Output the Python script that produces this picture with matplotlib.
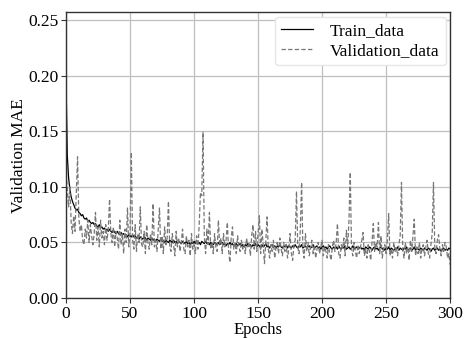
import matplotlib
matplotlib.use("Agg")
import matplotlib.pyplot as plt
import numpy as np

# MAE per epoch
train_mae = [
    0.195, 0.128, 0.108, 0.098, 0.091, 0.087, 0.084, 0.081, 0.079, 0.080,
    0.077, 0.076, 0.074, 0.075, 0.072, 0.071, 0.072, 0.069, 0.070, 0.068,
    0.067, 0.068, 0.066, 0.067, 0.065, 0.064, 0.066, 0.063, 0.064, 0.062,
    0.063, 0.061, 0.062, 0.060, 0.062, 0.060, 0.059, 0.061, 0.059, 0.058,
    0.060, 0.058, 0.057, 0.059, 0.057, 0.058, 0.056, 0.057, 0.055, 0.057,
    0.056, 0.055, 0.057, 0.055, 0.056, 0.054, 0.055, 0.053, 0.055, 0.054,
    0.053, 0.055, 0.054, 0.052, 0.054, 0.053, 0.052, 0.054, 0.052, 0.053,
    0.051, 0.053, 0.052, 0.051, 0.053, 0.051, 0.052, 0.050, 0.052, 0.051,
    0.050, 0.052, 0.051, 0.050, 0.052, 0.050, 0.051, 0.049, 0.051, 0.050,
    0.049, 0.051, 0.050, 0.049, 0.051, 0.049, 0.050, 0.048, 0.050, 0.049,
    0.051, 0.049, 0.052, 0.049, 0.050, 0.048, 0.051, 0.050, 0.049, 0.051,
    0.049, 0.050, 0.048, 0.050, 0.049, 0.048, 0.050, 0.049, 0.048, 0.050,
    0.048, 0.049, 0.050, 0.048, 0.049, 0.047, 0.049, 0.048, 0.050, 0.048,
    0.049, 0.047, 0.048, 0.049, 0.047, 0.048, 0.049, 0.047, 0.048, 0.046,
    0.048, 0.047, 0.049, 0.047, 0.048, 0.046, 0.048, 0.047, 0.049, 0.046,
    0.048, 0.047, 0.045, 0.048, 0.046, 0.047, 0.049, 0.046, 0.047, 0.045,
    0.047, 0.048, 0.046, 0.047, 0.045, 0.047, 0.046, 0.048, 0.046, 0.045,
    0.047, 0.046, 0.048, 0.045, 0.047, 0.046, 0.045, 0.047, 0.046, 0.048,
    0.046, 0.045, 0.047, 0.046, 0.048, 0.045, 0.046, 0.047, 0.045, 0.046,
    0.047, 0.045, 0.046, 0.048, 0.045, 0.046, 0.047, 0.045, 0.046, 0.044,
    0.046, 0.047, 0.045, 0.046, 0.044, 0.046, 0.047, 0.045, 0.044, 0.046,
    0.045, 0.046, 0.044, 0.047, 0.045, 0.044, 0.046, 0.045, 0.047, 0.044,
    0.045, 0.046, 0.044, 0.045, 0.047, 0.044, 0.045, 0.046, 0.044, 0.045,
    0.046, 0.044, 0.045, 0.043, 0.046, 0.045, 0.044, 0.046, 0.045, 0.043,
    0.045, 0.046, 0.044, 0.045, 0.043, 0.045, 0.046, 0.044, 0.045, 0.043,
    0.045, 0.044, 0.046, 0.043, 0.045, 0.044, 0.043, 0.045, 0.044, 0.046,
    0.043, 0.045, 0.044, 0.043, 0.045, 0.044, 0.046, 0.043, 0.044, 0.045,
    0.043, 0.044, 0.046, 0.043, 0.045, 0.044, 0.043, 0.045, 0.044, 0.043,
    0.045, 0.044, 0.043, 0.045, 0.044, 0.042, 0.044, 0.045, 0.043, 0.044,
    0.045, 0.043, 0.044, 0.042, 0.044, 0.045, 0.043, 0.044, 0.043, 0.045,
    0.044,
]

val_mae = [
    0.112, 0.098, 0.082, 0.100, 0.068, 0.058, 0.074, 0.060, 0.095, 0.127,
    0.072, 0.060, 0.066, 0.052, 0.048, 0.062, 0.054, 0.070, 0.050, 0.066,
    0.056, 0.048, 0.058, 0.077, 0.052, 0.064, 0.046, 0.070, 0.054, 0.060,
    0.048, 0.066, 0.052, 0.062, 0.089, 0.058, 0.050, 0.064, 0.046, 0.060,
    0.054, 0.044, 0.070, 0.048, 0.058, 0.040, 0.062, 0.050, 0.081, 0.046,
    0.060, 0.131, 0.052, 0.044, 0.066, 0.042, 0.058, 0.050, 0.082, 0.048,
    0.046, 0.060, 0.040, 0.066, 0.050, 0.044, 0.058, 0.048, 0.085, 0.046,
    0.052, 0.042, 0.062, 0.081, 0.044, 0.056, 0.040, 0.064, 0.048, 0.054,
    0.087, 0.046, 0.042, 0.058, 0.048, 0.038, 0.060, 0.046, 0.054, 0.042,
    0.050, 0.062, 0.044, 0.040, 0.056, 0.046, 0.052, 0.038, 0.058, 0.044,
    0.048, 0.040, 0.056, 0.044, 0.066, 0.095, 0.092, 0.149, 0.056, 0.040,
    0.062, 0.048, 0.077, 0.044, 0.050, 0.040, 0.058, 0.046, 0.042, 0.070,
    0.048, 0.054, 0.040, 0.058, 0.046, 0.052, 0.068, 0.042, 0.032, 0.054,
    0.064, 0.044, 0.050, 0.040, 0.056, 0.046, 0.042, 0.052, 0.044, 0.048,
    0.040, 0.054, 0.046, 0.050, 0.038, 0.056, 0.066, 0.044, 0.060, 0.042,
    0.058, 0.074, 0.040, 0.062, 0.048, 0.031, 0.050, 0.073, 0.044, 0.036,
    0.048, 0.042, 0.052, 0.036, 0.046, 0.050, 0.040, 0.054, 0.044, 0.038,
    0.050, 0.042, 0.048, 0.036, 0.044, 0.058, 0.040, 0.034, 0.048, 0.052,
    0.096, 0.046, 0.040, 0.062, 0.104, 0.044, 0.036, 0.058, 0.042, 0.050,
    0.038, 0.046, 0.052, 0.040, 0.048, 0.036, 0.044, 0.050, 0.040, 0.046,
    0.052, 0.038, 0.046, 0.042, 0.036, 0.048, 0.040, 0.034, 0.046, 0.052,
    0.042, 0.050, 0.067, 0.040, 0.036, 0.048, 0.044, 0.054, 0.038, 0.061,
    0.046, 0.070, 0.113, 0.044, 0.038, 0.050, 0.042, 0.036, 0.048, 0.040,
    0.046, 0.052, 0.059, 0.038, 0.044, 0.036, 0.048, 0.042, 0.034, 0.050,
    0.067, 0.042, 0.050, 0.046, 0.068, 0.040, 0.056, 0.036, 0.044, 0.048,
    0.040, 0.052, 0.076, 0.038, 0.044, 0.036, 0.050, 0.042, 0.046, 0.038,
    0.048, 0.056, 0.104, 0.044, 0.036, 0.050, 0.040, 0.046, 0.034, 0.052,
    0.042, 0.056, 0.071, 0.038, 0.046, 0.040, 0.050, 0.036, 0.044, 0.048,
    0.038, 0.046, 0.052, 0.040, 0.036, 0.048, 0.058, 0.104, 0.046, 0.040,
    0.052, 0.057, 0.044, 0.038, 0.048, 0.042, 0.050, 0.046, 0.036, 0.040,
    0.030,
]

epochs = np.arange(len(train_mae))

plt.rcParams["font.family"] = ["Liberation Serif", "DejaVu Serif"]

fig = plt.figure(figsize=(4.65, 3.38), dpi=100)
ax = fig.add_axes([0.142, 0.118, 0.826, 0.846])

ax.plot(epochs, train_mae, color="black", lw=0.9, label="Train_data")
ax.plot(epochs, val_mae, color="#777777", lw=0.9, ls=(0, (3.5, 1.8)),
        label="Validation_data")

ax.set_xlim(0, 300)
ax.set_ylim(0, 0.257)
ax.set_xticks(np.arange(0, 301, 50))
ax.set_yticks(np.arange(0, 0.251, 0.05))
ax.yaxis.set_major_formatter(matplotlib.ticker.FormatStrFormatter("%.2f"))
ax.grid(True, color="#bfbfbf", lw=0.9)
ax.set_axisbelow(True)
ax.tick_params(labelsize=12.5, length=3.5, width=0.8, color="#333333", pad=2)
for s in ax.spines.values():
    s.set_color("#333333")
    s.set_linewidth(1.0)

ax.set_xlabel("Epochs", fontsize=12, labelpad=0)
ax.set_ylabel("Validation MAE", fontsize=12.5, labelpad=1)
ax.legend(loc="upper right", fontsize=12.5, frameon=True, framealpha=1,
          edgecolor="#e6e6e6", handlelength=1.8, borderaxespad=0.25,
          labelspacing=0.25, handletextpad=1.0, borderpad=0.35)

fig.savefig("out.png", dpi=100)
